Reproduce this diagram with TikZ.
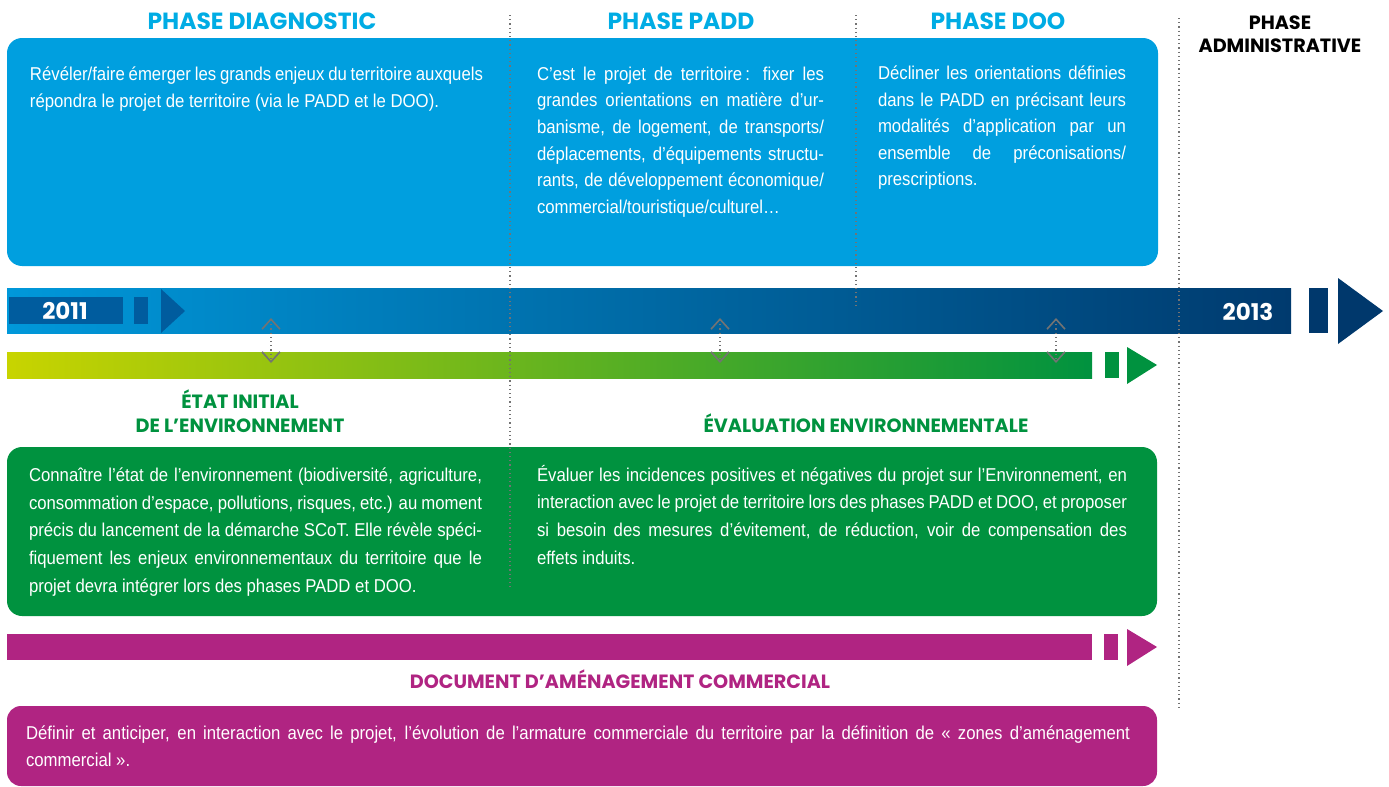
\documentclass[tikz,border=0pt]{standalone}
\usepackage{fontspec}
\setmainfont{Liberation Sans}[FakeStretch=0.9]
\newfontfamily\hfont{Poppins}
\usetikzlibrary{arrows.meta}
\definecolor{boxblue}{RGB}{0,159,223}
\definecolor{headblue}{RGB}{0,172,228}
\definecolor{barL}{RGB}{0,152,218}
\definecolor{barR}{RGB}{0,58,110}
\definecolor{darkb}{RGB}{0,92,158}
\definecolor{navy}{RGB}{0,56,108}
\definecolor{limeg}{RGB}{200,212,0}
\definecolor{gre}{RGB}{0,146,63}
\definecolor{purp}{RGB}{176,36,130}
\definecolor{dotg}{RGB}{115,115,115}
\newcommand\J[2]{\makebox[#1][s]{#2}}
\begin{document}
\begin{tikzpicture}[x=0.5pt,y=-0.5pt,
  body/.style={anchor=base west, inner sep=0pt, outer sep=0pt, text=white, align=left,
    font=\fontsize{9.3}{13.35}\selectfont},
  phase/.style={inner sep=0pt, anchor=base, text=headblue,
    font=\hfont\bfseries\fontsize{11.7}{12}\selectfont},
  lab/.style={inner sep=0pt, anchor=base, font=\hfont\bfseries\fontsize{9.6}{12}\selectfont},
  yr/.style={inner sep=0pt, anchor=base, text=white, font=\hfont\bfseries\fontsize{11.5}{12}\selectfont},
  vdots/.style={dotg, line width=0.6pt, dash pattern=on 0.6pt off 1.5pt},
  link/.style={dotg, line width=0.6pt, dash pattern=on 0.6pt off 1.5pt,
    {Straight Barb[length=5pt,width=9pt,line width=0.8pt]}-{Straight Barb[length=5pt,width=9pt,line width=0.8pt]}},
]
\useasboundingbox (0,0) rectangle (1389,787);
% blue box
\fill[boxblue, rounded corners=7.5pt] (7,38) rectangle (1158,266);
% timeline
\shade[left color=barL, right color=barR] (7,288) rectangle (1291,333);
\fill[darkb] (9,297) rectangle (123,324);
\fill[darkb] (134,297) rectangle (148,324);
\fill[darkb] (161,289) -- (185,311) -- (161,333) -- cycle;
\fill[navy] (1309,288) rectangle (1328,333);
\fill[navy] (1338,278) -- (1383,311) -- (1338,344) -- cycle;
\node[yr] (y2011) at (65,319) {2011};
\node[yr] (y2013) at (1248,320) {2013};
% green bar
\shade[left color=limeg, right color=gre] (7,352) rectangle (1092,378);
\fill[gre] (1105,352) rectangle (1119,378);
\fill[gre] (1127,347) -- (1157,365) -- (1127,384) -- cycle;
% green box
\fill[gre, rounded corners=7.5pt] (7,447) rectangle (1157,616);
% purple bar
\fill[purp] (7,634) rectangle (1092,660);
\fill[purp] (1104,634) rectangle (1118,660);
\fill[purp] (1127,629) -- (1157,647) -- (1127,666) -- cycle;
% purple box
\fill[purp, rounded corners=7pt] (7,706) rectangle (1157,786);

% headers
\node[phase] (hDiag) at (262,29) {PHASE DIAGNOSTIC};
\node[phase] (hPadd) at (681,29) {PHASE PADD};
\node[phase] (hDoo) at (998,29) {PHASE DOO};
\node[lab] (hAdm1) at (1280,29) {PHASE};
\node[lab] (hAdm2) at (1280,53) {ADMINISTRATIVE};
\node[lab, text=gre] (lEtat1) at (240,408) {ÉTAT INITIAL};
\node[lab, text=gre] (lEtat2) at (240,432) {DE L’ENVIRONNEMENT};
\node[lab, text=gre] (lEval) at (866,432) {ÉVALUATION ENVIRONNEMENTALE};
\node[lab, text=purp] (lDac) at (620,688) {DOCUMENT D’AMÉNAGEMENT COMMERCIAL};

% body texts (anchor = baseline of the last line)
\node[body] (tDiag) at (30,107) {\J{226.5pt}{Révéler/faire émerger les grands enjeux du territoire auxquels}\\
répondra le projet de territoire (via le PADD et le DOO).};
\node[body] (tPadd) at (537,213.5) {\J{143.5pt}{C’est le projet de territoire\,: fixer les}\\
\J{143.5pt}{grandes orientations en matière d’ur-}\\
\J{143.5pt}{banisme, de logement, de transports/}\\
\J{143.5pt}{déplacements, d’équipements structu-}\\
\J{143.5pt}{rants, de développement économique/}\\
commercial/touristique/culturel…};
\node[body, font=\fontsize{9.3}{13.2}\selectfont] (tDoo) at (878,185.5) {\J{124pt}{Décliner les orientations définies}\\
\J{124pt}{dans le PADD en précisant leurs}\\
\J{124pt}{modalités d’application par un}\\
\J{124pt}{ensemble de préconisations/}\\
prescriptions.};
\node[body, font=\fontsize{9.3}{13.8}\selectfont] (tEtat) at (29,592) {\J{226.5pt}{Connaître l’état de l’environnement (biodiversité, agriculture,}\\
\J{226.5pt}{consommation d’espace, pollutions, risques, etc.) au moment}\\
\J{226.5pt}{précis du lancement de la démarche SCoT. Elle révèle spéci-}\\
\J{226.5pt}{fiquement les enjeux environnementaux du territoire que le}\\
projet devra intégrer lors des phases PADD et DOO.};
\node[body, font=\fontsize{9.3}{13.8}\selectfont] (tEval) at (537,564) {\J{295pt}{Évaluer les incidences positives et négatives du projet sur l’Environnement, en}\\
\J{295pt}{interaction avec le projet de territoire lors des phases PADD et DOO, et proposer}\\
\J{295pt}{si besoin des mesures d’évitement, de réduction, voir de compensation des}\\
effets induits.};
\node[body] (tDac) at (26,766) {\J{552pt}{Définir et anticiper, en interaction avec le projet, l’évolution de l’armature commerciale du territoire par la définition de «~zones d’aménagement}\\
commercial~».};

% dotted phase separators
\coordinate (v1t) at (510,15); \coordinate (v1b) at (510,588);
\coordinate (v2t) at (856,15); \coordinate (v2b) at (856,305);
\coordinate (v3t) at (1179,18); \coordinate (v3b) at (1179,710);
\draw[vdots] (v1t) -- (v1b);
\draw[vdots] (v2t) -- (v2b);
\draw[vdots] (v3t) -- (v3b);

% interaction arrows
\coordinate (a1t) at (271,318); \coordinate (a1b) at (271,363);
\coordinate (a2t) at (720,318); \coordinate (a2b) at (720,363);
\coordinate (a3t) at (1056,318); \coordinate (a3b) at (1056,363);
\draw[link] (a1t) -- (a1b);
\draw[link] (a2t) -- (a2b);
\draw[link] (a3t) -- (a3b);
\end{tikzpicture}
\end{document}
